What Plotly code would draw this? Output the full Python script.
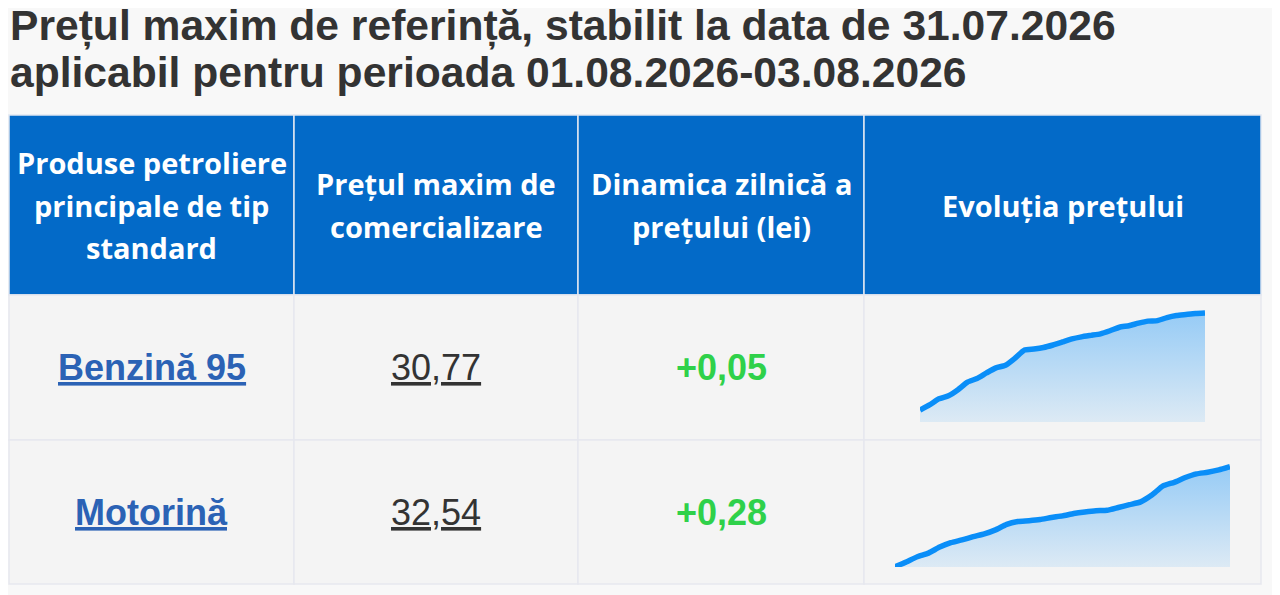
import pandas as pd
import plotly.graph_objects as go

# Textele si valorile din tabel
titlu = ["Prețul maxim de referință, stabilit la data de 31.07.2026",
         "aplicabil pentru perioada 01.08.2026-03.08.2026"]

antet = ["Produse petroliere<br>principale de tip<br>standard",
         "Prețul maxim de<br>comercializare",
         "Dinamica zilnică a<br>prețului (lei)",
         "Evoluția prețului"]

produse = ["Benzină 95", "Motorină"]
pret_maxim = ["30,77", "32,54"]
dinamica = ["+0,05", "+0,28"]

# evolutia pretului in luna iulie (aproximativ)
zile = pd.date_range("2026-07-01", "2026-07-31", freq="D")
evolutie_benzina = [28.86, 28.96, 29.08, 29.14, 29.26, 29.41, 29.48, 29.59, 29.69, 29.74,
                    29.88, 30.04, 30.06, 30.09, 30.14, 30.20, 30.26, 30.30, 30.33, 30.36,
                    30.42, 30.49, 30.52, 30.57, 30.61, 30.62, 30.68, 30.72, 30.74, 30.76,
                    30.77]
evolutie_motorina = [30.04, 30.16, 30.29, 30.38, 30.53, 30.64, 30.71, 30.79, 30.86, 30.96,
                     31.10, 31.17, 31.19, 31.22, 31.27, 31.31, 31.37, 31.41, 31.44, 31.45,
                     31.52, 31.59, 31.66, 31.83, 32.06, 32.15, 32.27, 32.36, 32.40, 32.46,
                     32.54]

# pozitii in pixeli ai ferestrei (pagina are 8px margine)
W, H = 1280, 595
OFF = 8
col_x = [9, 294, 578, 864, 1261]
row_y = [115, 295, 440, 584]
spark = [dict(x0=920, x1=1205, top=305, bot=422, p_first=410, p_last=313),
         dict(x0=895, x1=1230, top=460, bot=567, p_first=566.7, p_last=466.7)]

albastru = "#036ac8"
link = "#2b62b5"
verde = "#2fd14a"
text_inchis = "#333333"

fig = go.Figure()

# axa principala = pixeli ai ferestrei
fig.update_layout(
    xaxis=dict(range=[OFF, W + OFF], domain=[0, 1], visible=False, fixedrange=True),
    yaxis=dict(range=[H + OFF, OFF], domain=[0, 1], visible=False, fixedrange=True),
)
fig.add_trace(go.Scatter(x=[OFF], y=[OFF], mode="markers", marker=dict(opacity=0),
                         hoverinfo="skip", showlegend=False))

shapes = []
annotations = []

# titlu
for i, linie in enumerate(titlu):
    annotations.append(dict(x=8, y=25.5 + i * 46.5, xref="x", yref="y", text=linie,
                            showarrow=False, xanchor="left", yanchor="middle",
                            font=dict(family="Liberation Sans, Arial", size=42.6,
                                      weight="bold", color=text_inchis)))

# antet
for j, eticheta in enumerate(antet):
    shapes.append(dict(type="rect", xref="x", yref="y", x0=col_x[j], x1=col_x[j + 1],
                       y0=row_y[0], y1=row_y[1], fillcolor=albastru,
                       line=dict(color="#dfe6f1", width=1.5), layer="below"))
    linii = eticheta.split("<br>")
    cy = (row_y[0] + row_y[1]) / 2
    for k, t in enumerate(linii):
        annotations.append(dict(x=(col_x[j] + col_x[j + 1]) / 2,
                                y=cy + (k - (len(linii) - 1) / 2) * 42.5,
                                xref="x", yref="y", text=t, showarrow=False,
                                xanchor="center", yanchor="middle",
                                font=dict(family="Open Sans", size=29, weight="bold",
                                          color="white")))

# randuri
for r in range(len(produse)):
    y0, y1 = row_y[r + 1], row_y[r + 2]
    cy = (y0 + y1) / 2
    for j in range(4):
        shapes.append(dict(type="rect", xref="x", yref="y", x0=col_x[j], x1=col_x[j + 1],
                           y0=y0, y1=y1, fillcolor="#f4f4f4",
                           line=dict(color="#e6e7ee", width=1.5), layer="below"))
    celule = [(produse[r], dict(weight="bold", color=link, lineposition="under")),
              (pret_maxim[r], dict(color=text_inchis, lineposition="under")),
              (dinamica[r], dict(weight="bold", color=verde))]
    for j, (t, f) in enumerate(celule):
        annotations.append(dict(x=(col_x[j] + col_x[j + 1]) / 2, y=cy, xref="x", yref="y",
                                text=t, showarrow=False, xanchor="center", yanchor="middle",
                                font=dict(family="Liberation Sans, Arial", size=36, **f)))

# grafice mici cu evolutia pretului
serii = [evolutie_benzina, evolutie_motorina]
for i, (vals, s) in enumerate(zip(serii, spark)):
    n = i + 2
    k = (max(vals) - min(vals)) / (s["p_first"] - s["p_last"])
    y_lo = vals[0] - (s["bot"] - s["p_first"]) * k
    y_hi = vals[-1] + (s["p_last"] - s["top"]) * k
    fig.add_trace(go.Scatter(
        x=zile, y=vals, xaxis=f"x{n}", yaxis=f"y{n}", mode="lines",
        line=dict(color="#0a8ef8", width=5.5, shape="spline", smoothing=0.5),
        fill="tozeroy",
        fillgradient=dict(type="vertical", start=y_lo, stop=max(vals),
                          colorscale=[[0, "rgba(10,142,248,0.10)"],
                                      [1, "rgba(10,142,248,0.40)"]]),
        hoverinfo="skip", showlegend=False))
    fig.layout[f"xaxis{n}"] = dict(domain=[(s["x0"] - OFF) / W, (s["x1"] - OFF) / W],
                                  range=[zile[0], zile[-1]],
                                  visible=False, fixedrange=True, anchor=f"y{n}")
    fig.layout[f"yaxis{n}"] = dict(domain=[1 - (s["bot"] - OFF) / H, 1 - (s["top"] - OFF) / H],
                                  range=[y_lo, y_hi], visible=False, fixedrange=True,
                                  anchor=f"x{n}")

fig.update_layout(
    width=W, height=H,
    margin=dict(l=0, r=0, t=0, b=0),
    paper_bgcolor="#f8f8f8",
    plot_bgcolor="rgba(0,0,0,0)",
    shapes=shapes,
    annotations=annotations,
    showlegend=False,
)

fig.write_html("out.html")
